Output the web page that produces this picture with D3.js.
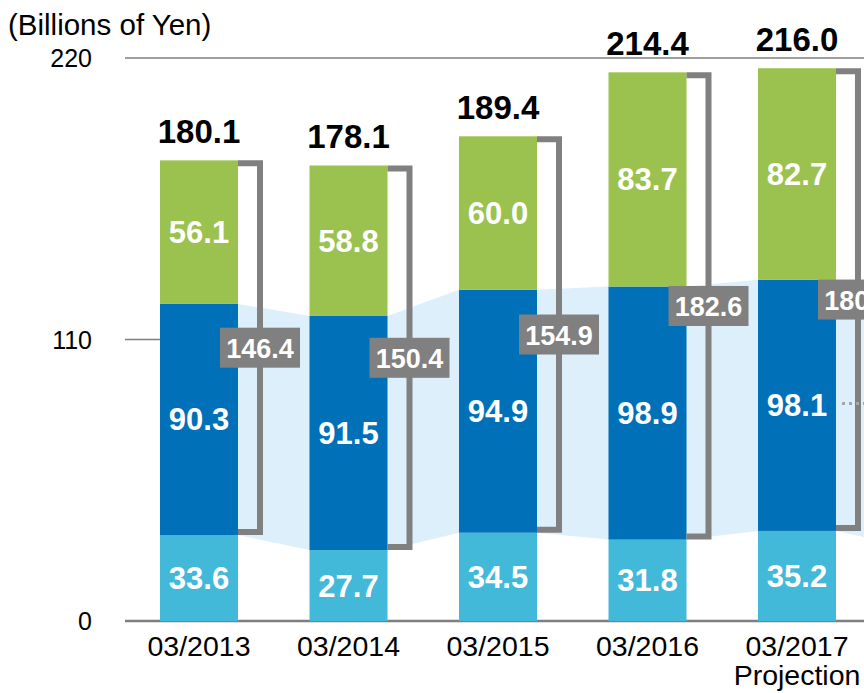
<!DOCTYPE html>
<html>
<head>
<meta charset="utf-8">
<script src="https://cdn.jsdelivr.net/npm/d3@7"></script>
<style>
  body { margin: 0; background: #fff; }
  svg { display: block; font-family: "Liberation Sans", Arial, sans-serif; }
</style>
</head>
<body>
<svg width="864" height="693"></svg>
<script>
// data
var periods = ["03/2013", "03/2014", "03/2015", "03/2016", "03/2017"];
var subLabels = ["", "", "", "", "Projection"];
var bottomVals = [33.6, 27.7, 34.5, 31.8, 35.2];   // light blue
var middleVals = [90.3, 91.5, 94.9, 98.9, 98.1];   // dark blue
var topVals = [56.1, 58.8, 60.0, 83.7, 82.7];      // green
var totals = ["180.1", "178.1", "189.4", "214.4", "216.0"];
var bracketLabels = ["146.4", "150.4", "154.9", "182.6", "180.8"];
var yTicks = [0, 110, 220];

var svg = d3.select("svg"),
    W = 864, H = 693;

var x = d3.scalePoint().domain(periods).range([199, 797]);
var y = d3.scaleLinear().domain([0, 220]).range([621, 58]);
var bw = 78;

var rows = periods.map(function(p, i) {
    return {
        p: p, i: i,
        b0: 0, b1: bottomVals[i],
        m0: bottomVals[i], m1: bottomVals[i] + middleVals[i],
        t0: bottomVals[i] + middleVals[i], t1: bottomVals[i] + middleVals[i] + topVals[i]
    };
});

// gridlines
svg.append("g").selectAll("line").data(yTicks).enter().append("line")
    .attr("x1", 125).attr("x2", W)
    .attr("y1", function(d) { return y(d); }).attr("y2", function(d) { return y(d); })
    .attr("stroke", "#7f7f7f")
    .attr("stroke-width", function(d) { return d === 0 ? 2.5 : 1.5; });

svg.append("g").selectAll("text").data(yTicks).enter().append("text")
    .attr("x", 92).attr("y", function(d) { return y(d) + 9; })
    .attr("text-anchor", "end").attr("font-size", 25).attr("fill", "#000")
    .text(function(d) { return d; });

svg.append("text").attr("x", 8).attr("y", 35)
    .attr("font-size", 29.5).attr("fill", "#000").text("(Billions of Yen)");

// light blue band joining the dark blue segments
var topPts = [], botPts = [];
rows.forEach(function(r) {
    var cx = x(r.p);
    topPts.push([cx - bw / 2, y(r.m1)], [cx + bw / 2, y(r.m1)]);
    botPts.push([cx - bw / 2, y(r.m0)], [cx + bw / 2, y(r.m0)]);
});
var last = rows[rows.length - 1];
topPts.push([W, y(last.m1)]);
botPts.push([W, y(last.m0) + 6]);
svg.append("path")
    .attr("d", d3.line()(topPts.concat(botPts.reverse())) + "Z")
    .attr("fill", "#ddeffb");

// bars
var segs = [
    { k0: "b0", k1: "b1", color: "#43b9da", vals: bottomVals },
    { k0: "m0", k1: "m1", color: "#0070b9", vals: middleVals },
    { k0: "t0", k1: "t1", color: "#9bc24e", vals: topVals }
];
segs.forEach(function(s) {
    var g = svg.append("g");
    g.selectAll("rect").data(rows).enter().append("rect")
        .attr("x", function(d) { return x(d.p) - bw / 2; })
        .attr("width", bw)
        .attr("y", function(d) { return y(d[s.k1]); })
        .attr("height", function(d) { return y(d[s.k0]) - y(d[s.k1]); })
        .attr("fill", s.color);
    g.selectAll("text").data(rows).enter().append("text")
        .attr("x", function(d) { return x(d.p); })
        .attr("y", function(d) { return (y(d[s.k0]) + y(d[s.k1])) / 2 + 11; })
        .attr("text-anchor", "middle").attr("font-size", 31).attr("font-weight", "bold")
        .attr("fill", "#fff")
        .text(function(d) { return s.vals[d.i].toFixed(1); });
});

// brackets
var br = svg.append("g");
br.selectAll("path").data(rows).enter().append("path")
    .attr("d", function(d) {
        var x0 = x(d.p) + bw / 2, x1 = x0 + 22;
        var yt = y(d.t1) + 3, yb = y(d.m0) - 3;
        return "M" + x0 + "," + yt + "H" + x1 + "V" + yb + "H" + x0;
    })
    .attr("fill", "none").attr("stroke", "#808080").attr("stroke-width", 6);

// dotted line off to the right of the projection bar
svg.append("line")
    .attr("x1", x(last.p) + bw / 2 + 6).attr("x2", W)
    .attr("y1", y(85)).attr("y2", y(85))
    .attr("stroke", "#a6a6a6").attr("stroke-width", 3).attr("stroke-dasharray", "3,4");

br.selectAll("rect").data(rows).enter().append("rect")
    .attr("x", function(d) { return x(d.p) + bw / 2 + 22 - 40; })
    .attr("y", function(d) { return (y(d.t1) + y(d.m0)) / 2 - 20; })
    .attr("width", 80).attr("height", 40)
    .attr("fill", "#808080");
br.selectAll("text").data(rows).enter().append("text")
    .attr("x", function(d) { return x(d.p) + bw / 2 + 22; })
    .attr("y", function(d) { return (y(d.t1) + y(d.m0)) / 2 + 10; })
    .attr("text-anchor", "middle").attr("font-size", 27).attr("font-weight", "bold")
    .attr("fill", "#fff")
    .text(function(d) { return bracketLabels[d.i]; });

// totals above bars
svg.append("g").selectAll("text").data(rows).enter().append("text")
    .attr("x", function(d) { return x(d.p); })
    .attr("y", function(d) { return y(d.t1) - 17; })
    .attr("text-anchor", "middle").attr("font-size", 33).attr("font-weight", "bold")
    .attr("fill", "#000")
    .text(function(d) { return totals[d.i]; });

// category labels
var xl = svg.append("g");
xl.selectAll("text.cat").data(periods).enter().append("text")
    .attr("class", "cat")
    .attr("x", function(d) { return x(d); }).attr("y", 656)
    .attr("text-anchor", "middle").attr("font-size", 28.5).attr("fill", "#000")
    .text(function(d) { return d; });
xl.selectAll("text.sub").data(periods).enter().append("text")
    .attr("class", "sub")
    .attr("x", function(d) { return x(d); }).attr("y", 685)
    .attr("text-anchor", "middle").attr("font-size", 28.5).attr("fill", "#000")
    .text(function(d, i) { return subLabels[i]; });
</script>
</body>
</html>
